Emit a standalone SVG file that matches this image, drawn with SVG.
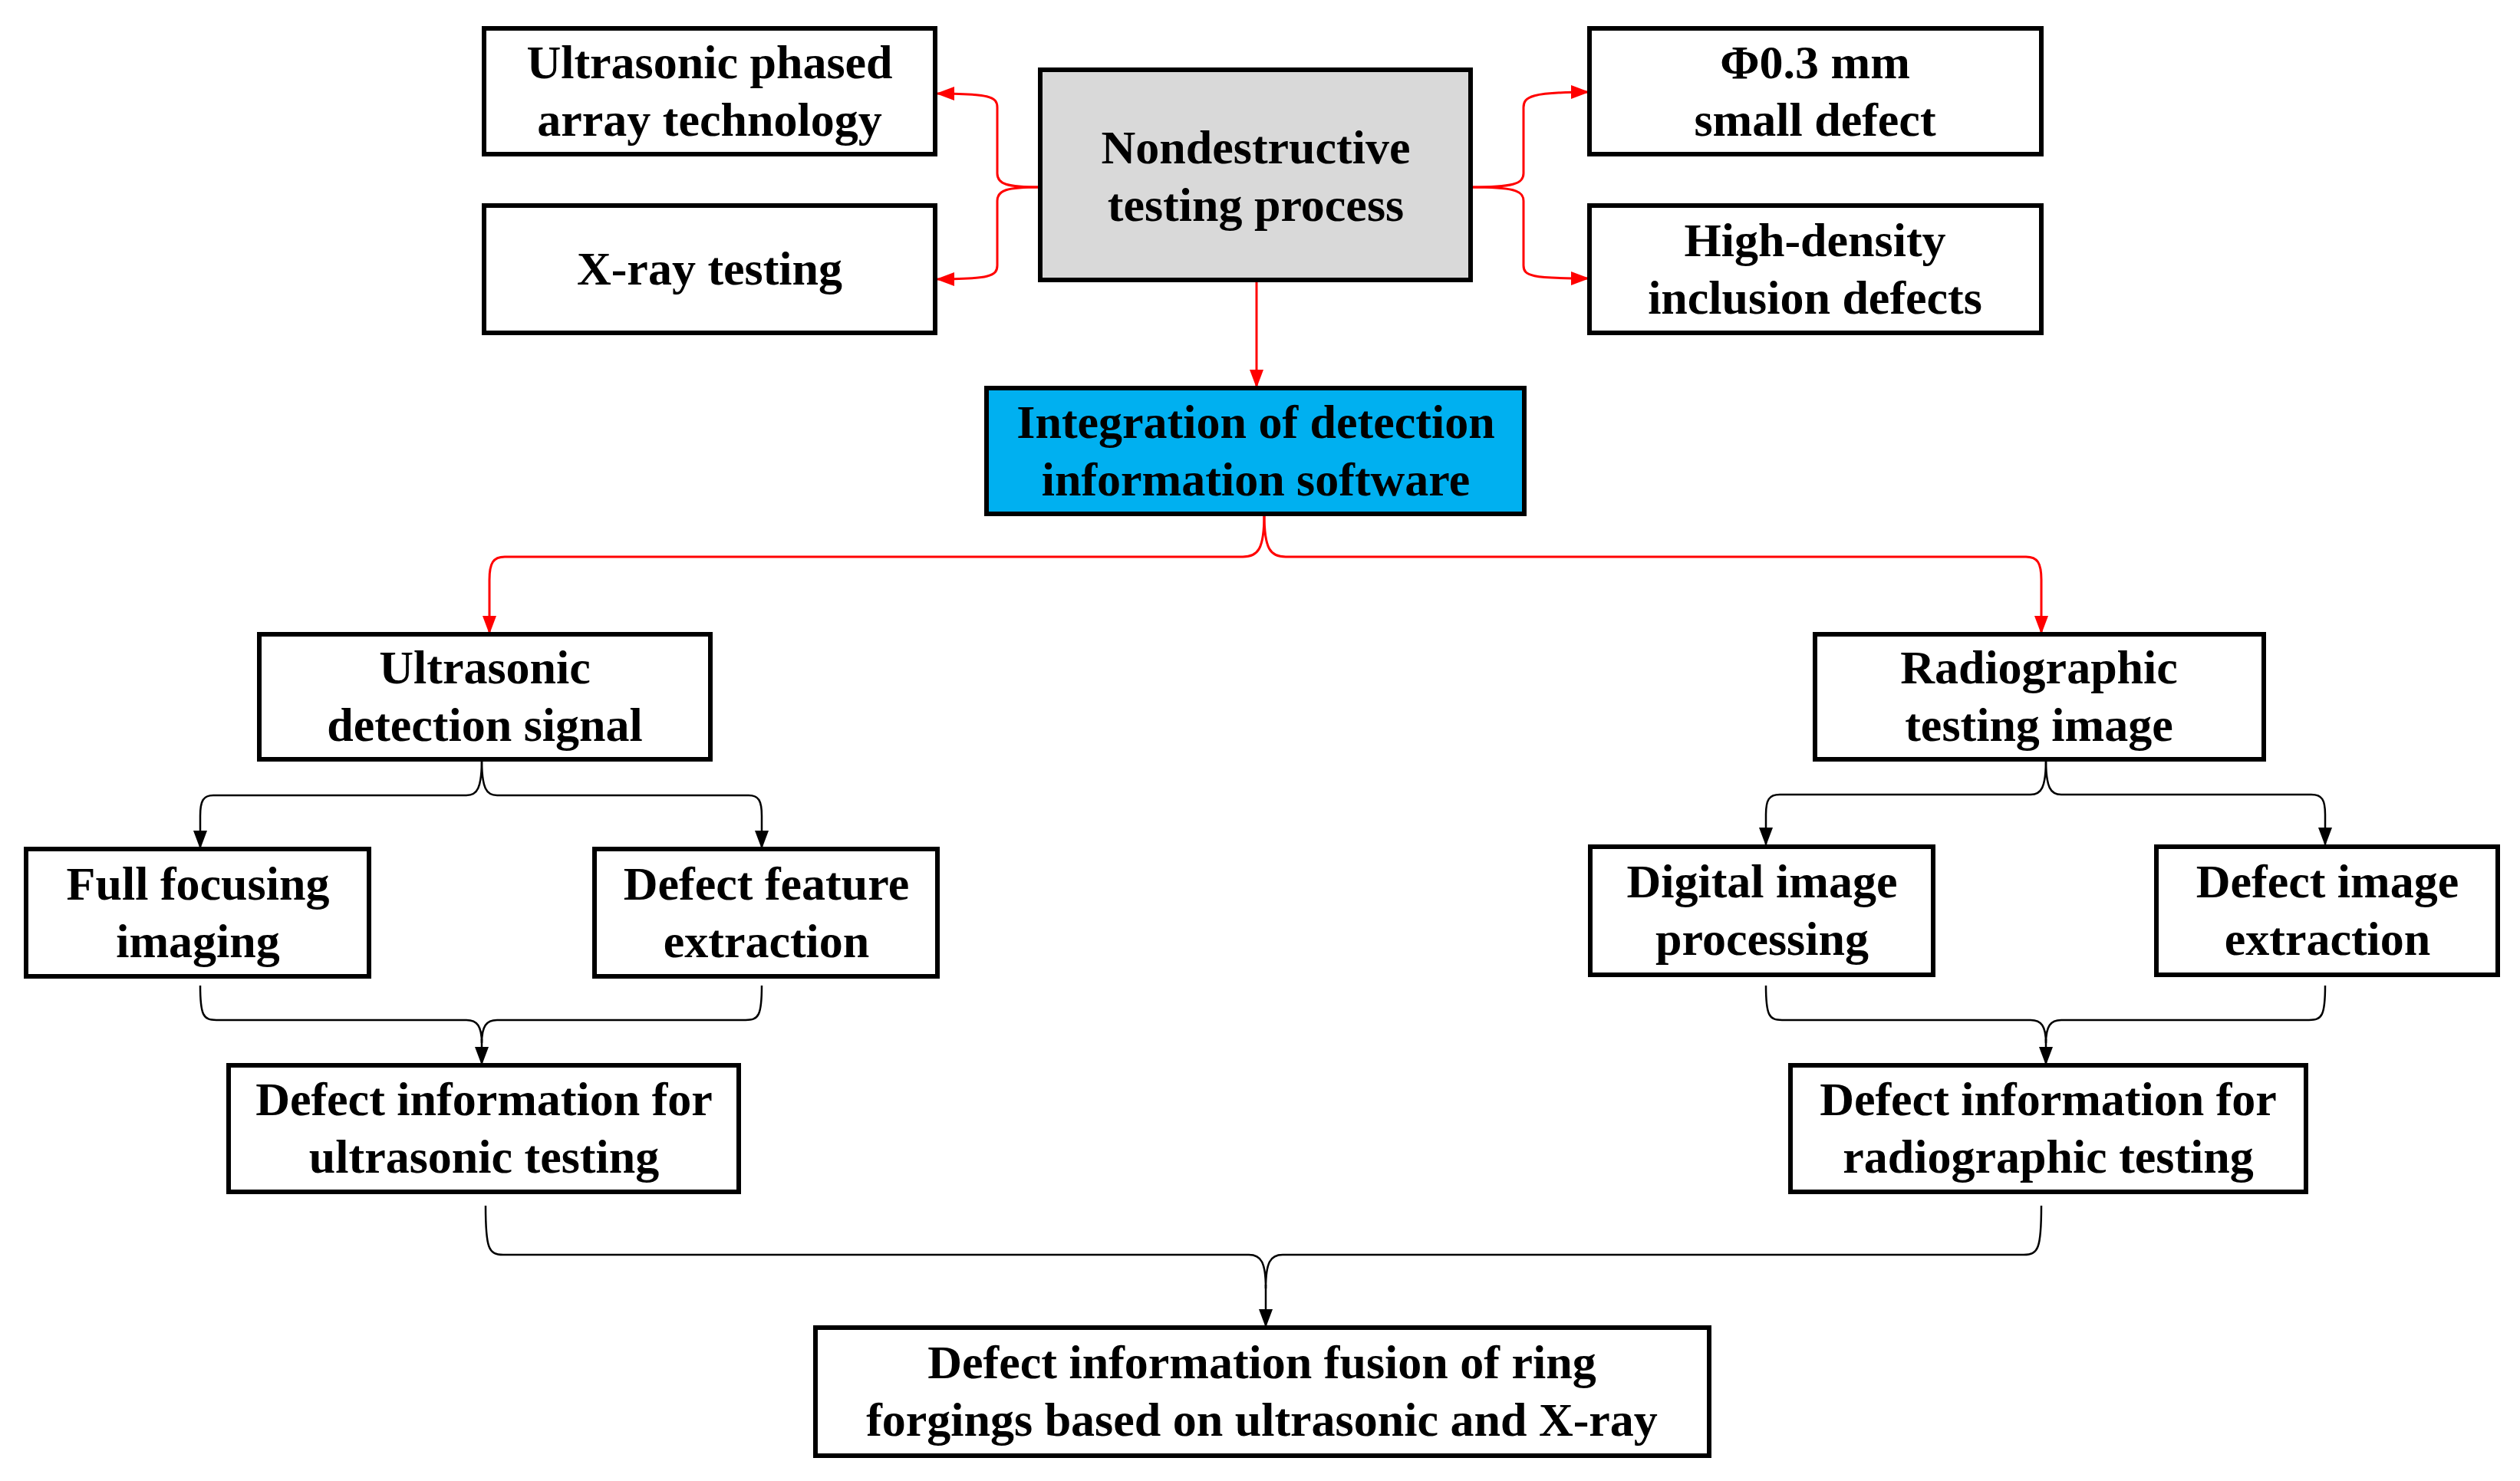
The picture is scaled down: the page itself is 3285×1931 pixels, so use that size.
<svg xmlns="http://www.w3.org/2000/svg" width="3285" height="1931" viewBox="0 0 3285 1931">
<style>
.box{fill:#fff;stroke:#000;stroke-width:6}
.gray{fill:#d9d9d9}
.blue{fill:#00b0f0}
.t{font-family:"Liberation Serif","Times New Roman",serif;font-weight:bold;font-size:62px;text-anchor:middle;fill:#000}
.red{fill:none;stroke:#ff0000;stroke-width:3}
.blk{fill:none;stroke:#000;stroke-width:2.5}
</style>
<defs>
<marker id="ar" markerUnits="userSpaceOnUse" markerWidth="24" markerHeight="18" refX="24" refY="9" orient="auto"><path d="M0,0 L24,9 L0,18 z" fill="#ff0000"/></marker>
<marker id="ab" markerUnits="userSpaceOnUse" markerWidth="24" markerHeight="18" refX="24" refY="9" orient="auto"><path d="M0,0 L24,9 L0,18 z" fill="#000"/></marker>
</defs>
<rect width="3285" height="1931" fill="#fff"/>
<g id="connectors">
<path class="red" marker-end="url(#ar)" d="M1356,244 C1312,244 1300,240 1300,226 L1300,140 C1300,126 1290,122 1220,122"/>
<path class="red" marker-end="url(#ar)" d="M1356,244 C1312,244 1300,248 1300,262 L1300,346 C1300,360 1290,364 1220,364"/>
<path class="red" marker-end="url(#ar)" d="M1917,244 C1972,244 1986,240 1986,226 L1986,140 C1986,126 1996,120 2072,120"/>
<path class="red" marker-end="url(#ar)" d="M1917,244 C1972,244 1986,248 1986,262 L1986,346 C1986,360 1996,363 2072,363"/>
<path class="red" marker-end="url(#ar)" d="M1638,365 L1638,506"/>
<path class="red" marker-end="url(#ar)" d="M1648,670 C1648,716 1640,726 1620,726 L658,726 C643,726 638,734 638,756 L638,827"/>
<path class="red" marker-end="url(#ar)" d="M1648,670 C1648,716 1656,726 1676,726 L2641,726 C2656,726 2661,734 2661,756 L2661,827"/>
<path class="blk" marker-end="url(#ab)" d="M628,990 C628,1028 622,1037 608,1037 L278,1037 C265,1037 261,1044 261,1064 L261,1107"/>
<path class="blk" marker-end="url(#ab)" d="M628,990 C628,1028 634,1037 648,1037 L976,1037 C989,1037 993,1044 993,1064 L993,1107"/>
<path class="blk" d="M261,1285 C261,1324 265,1330 282,1330 L608,1330 C622,1330 628,1338 628,1360 M993,1285 C993,1324 989,1330 972,1330 L648,1330 C634,1330 628,1338 628,1360"/>
<path class="blk" marker-end="url(#ab)" d="M628,1355 L628,1389"/>
<path class="blk" marker-end="url(#ab)" d="M2667,990 C2667,1027 2661,1036 2647,1036 L2320,1036 C2306,1036 2302,1043 2302,1062 L2302,1103"/>
<path class="blk" marker-end="url(#ab)" d="M2667,990 C2667,1027 2673,1036 2687,1036 L3013,1036 C3027,1036 3031,1043 3031,1062 L3031,1103"/>
<path class="blk" d="M2302,1285 C2302,1324 2306,1330 2323,1330 L2647,1330 C2661,1330 2667,1338 2667,1360 M3031,1285 C3031,1324 3027,1330 3010,1330 L2687,1330 C2673,1330 2667,1338 2667,1360"/>
<path class="blk" marker-end="url(#ab)" d="M2667,1355 L2667,1389"/>
<path class="blk" d="M633,1572 C633,1628 637,1636 656,1636 L1628,1636 C1644,1636 1650,1646 1650,1680 M2661,1572 C2661,1628 2657,1636 2638,1636 L1672,1636 C1656,1636 1650,1646 1650,1680"/>
<path class="blk" marker-end="url(#ab)" d="M1650,1675 L1650,1731"/>
</g>
<g id="n-phased"><rect class="box" x="631" y="37" width="588" height="164"/><text class="t" x="925" y="102">Ultrasonic phased</text><text class="t" x="925" y="177">array technology</text></g>
<g id="n-xray"><rect class="box" x="631" y="268" width="588" height="166"/><text class="t" x="925" y="371">X-ray testing</text></g>
<g id="n-ndt"><rect class="box gray" x="1356" y="91" width="561" height="274"/><text class="t" x="1637" y="213">Nondestructive</text><text class="t" x="1637" y="288">testing process</text></g>
<g id="n-phi"><rect class="box" x="2072" y="37" width="589" height="164"/><text class="t" x="2366" y="102">Φ0.3 mm</text><text class="t" x="2366" y="177">small defect</text></g>
<g id="n-hd"><rect class="box" x="2072" y="268" width="589" height="166"/><text class="t" x="2366" y="334">High-density</text><text class="t" x="2366" y="409">inclusion defects</text></g>
<g id="n-integ"><rect class="box blue" x="1286" y="506" width="701" height="164"/><text class="t" x="1637" y="571">Integration of detection</text><text class="t" x="1637" y="646">information software</text></g>
<g id="n-us"><rect class="box" x="338" y="827" width="588" height="163"/><text class="t" x="632" y="891">Ultrasonic</text><text class="t" x="632" y="966">detection signal</text></g>
<g id="n-rt"><rect class="box" x="2366" y="827" width="585" height="163"/><text class="t" x="2658" y="891">Radiographic</text><text class="t" x="2658" y="966">testing image</text></g>
<g id="n-ffi"><rect class="box" x="34" y="1107" width="447" height="166"/><text class="t" x="258" y="1173">Full focusing</text><text class="t" x="258" y="1248">imaging</text></g>
<g id="n-dfe"><rect class="box" x="775" y="1107" width="447" height="166"/><text class="t" x="999" y="1173">Defect feature</text><text class="t" x="999" y="1248">extraction</text></g>
<g id="n-dip"><rect class="box" x="2073" y="1104" width="447" height="167"/><text class="t" x="2297" y="1170">Digital image</text><text class="t" x="2297" y="1245">processing</text></g>
<g id="n-die"><rect class="box" x="2811" y="1104" width="445" height="167"/><text class="t" x="3034" y="1170">Defect image</text><text class="t" x="3034" y="1245">extraction</text></g>
<g id="n-diu"><rect class="box" x="298" y="1389" width="665" height="165"/><text class="t" x="631" y="1454">Defect information for</text><text class="t" x="631" y="1529">ultrasonic testing</text></g>
<g id="n-dir"><rect class="box" x="2334" y="1389" width="672" height="165"/><text class="t" x="2670" y="1454">Defect information for</text><text class="t" x="2670" y="1529">radiographic testing</text></g>
<g id="n-fusion"><rect class="box" x="1063" y="1731" width="1165" height="167"/><text class="t" x="1645" y="1797">Defect information fusion of ring</text><text class="t" x="1645" y="1872">forgings based on ultrasonic and X-ray</text></g>
</svg>
